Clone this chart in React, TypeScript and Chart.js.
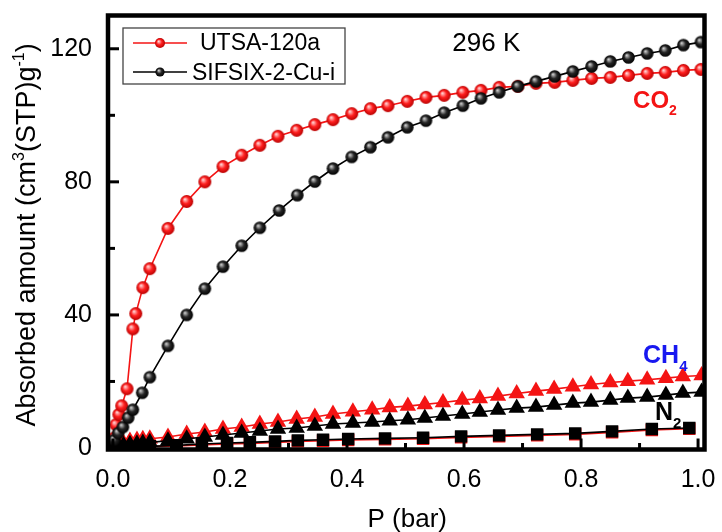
import React, { useEffect, useRef } from "react";
import { Chart, registerables } from "chart.js";

Chart.register(...registerables);

const FONT = '"Liberation Sans", Arial, Helvetica, sans-serif';
const RED = "#f41414";
const BLACK = "#000000";
const BLUE = "#1818f0";

// CO2 isotherm, UTSA-120a (P in bar, uptake in cm3(STP)/g)
const co2UtsaP = [0.0, 0.002, 0.005, 0.01, 0.015, 0.024, 0.034, 0.039, 0.051, 0.063, 0.094, 0.126, 0.157, 0.188, 0.22, 0.251, 0.282, 0.314, 0.345, 0.376, 0.408, 0.44, 0.47, 0.503, 0.535, 0.566, 0.598, 0.629, 0.66, 0.692, 0.723, 0.755, 0.786, 0.818, 0.85, 0.881, 0.913, 0.944, 0.975, 1.005];
const co2UtsaQ = [0.5, 3.0, 7.0, 10.1, 12.7, 17.8, 35.8, 40.4, 48.2, 53.9, 66.0, 74.1, 80.0, 84.6, 88.0, 91.0, 93.7, 95.5, 97.2, 98.7, 100.5, 102.0, 102.9, 104.2, 105.4, 106.0, 106.9, 107.5, 108.4, 108.7, 109.6, 109.9, 110.5, 111.1, 111.4, 112.0, 112.6, 112.9, 113.5, 113.8];

// CO2 isotherm, SIFSIX-2-Cu-i
const co2SifsixP = [0.002, 0.009, 0.017, 0.026, 0.034, 0.05, 0.063, 0.094, 0.126, 0.157, 0.188, 0.22, 0.251, 0.284, 0.315, 0.345, 0.376, 0.408, 0.44, 0.47, 0.503, 0.535, 0.566, 0.598, 0.629, 0.66, 0.692, 0.723, 0.755, 0.786, 0.818, 0.85, 0.881, 0.913, 0.944, 0.975, 1.005];
const co2SifsixQ = [2.4, 4.5, 6.3, 9.1, 11.5, 16.6, 21.3, 30.7, 40.0, 47.9, 54.5, 60.8, 66.2, 71.4, 76.0, 80.1, 84.0, 87.5, 90.4, 93.4, 96.4, 98.4, 100.8, 102.9, 105.1, 106.9, 108.7, 110.2, 111.7, 113.2, 114.7, 116.2, 117.4, 118.6, 119.5, 121.1, 122.0];

// CH4 isotherms
const ch4P = [0.003, 0.01, 0.018, 0.029, 0.041, 0.051, 0.063, 0.094, 0.126, 0.157, 0.188, 0.22, 0.251, 0.282, 0.314, 0.345, 0.376, 0.41, 0.443, 0.473, 0.504, 0.533, 0.564, 0.597, 0.627, 0.658, 0.69, 0.723, 0.754, 0.786, 0.817, 0.85, 0.88, 0.913, 0.945, 0.974, 1.006];
const ch4UtsaQ = [0.4, 1.0, 1.5, 2.1, 2.4, 2.6, 2.8, 3.3, 4.2, 4.8, 5.7, 6.3, 7.2, 7.8, 8.7, 9.3, 10.2, 10.9, 11.5, 12.2, 12.6, 13.1, 13.7, 14.4, 14.9, 15.6, 16.4, 17.1, 17.7, 18.4, 19.1, 19.7, 20.1, 20.5, 21.0, 21.5, 21.8];
const ch4SifsixQ = [0.2, 0.5, 0.8, 1.1, 1.3, 1.5, 1.7, 2.2, 2.8, 3.3, 3.9, 4.5, 5.1, 5.7, 6.0, 6.6, 7.2, 7.5, 7.8, 8.2, 8.5, 9.0, 9.6, 10.2, 10.8, 11.4, 12.0, 12.3, 12.9, 13.5, 13.8, 14.4, 15.0, 15.3, 15.9, 16.5, 16.8];

// N2 isotherms
const n2P = [0.005, 0.015, 0.03, 0.063, 0.109, 0.152, 0.195, 0.234, 0.277, 0.316, 0.359, 0.402, 0.465, 0.53, 0.595, 0.66, 0.725, 0.79, 0.853, 0.921, 0.985];
const n2UtsaQ = [0.1, 0.2, 0.3, 0.4, 0.6, 0.9, 1.2, 1.4, 1.7, 2.0, 2.2, 2.4, 2.6, 2.8, 3.2, 3.5, 3.8, 4.1, 4.7, 5.4, 5.8];
const n2SifsixQ = [0.1, 0.2, 0.3, 0.5, 0.8, 1.2, 1.5, 1.7, 2.0, 2.3, 2.5, 2.7, 2.9, 3.1, 3.5, 3.8, 4.1, 4.4, 5.0, 5.7, 6.0];

// Axes
const xTicks = [0, 0.2, 0.4, 0.6, 0.8, 1.0];
const xMinorTicks = [0.1, 0.3, 0.5, 0.7, 0.9];
const yTicks = [0, 40, 80, 120];
const yMinorTicks = [20, 60, 100];
const xLimits = [-0.0085, 1.011];
const yLimits = [-0.45, 130];

const seriesNames = ["UTSA-120a", "SIFSIX-2-Cu-i"];

const pairs = (xs: number[], ys: number[]) => xs.map((x, i) => ({ x, y: ys[i] }));

function makeSphere(r: number, light: string, mid: string, dark: string) {
  const size = Math.ceil(r * 2 + 2);
  const c = document.createElement("canvas");
  c.width = size;
  c.height = size;
  const g = c.getContext("2d")!;
  const cx = size / 2;
  const cy = size / 2;
  const grad = g.createRadialGradient(cx - r * 0.3, cy - r * 0.35, r * 0.05, cx, cy, r);
  grad.addColorStop(0, light);
  grad.addColorStop(0.5, mid);
  grad.addColorStop(1, dark);
  g.fillStyle = grad;
  g.beginPath();
  g.arc(cx, cy, r, 0, Math.PI * 2);
  g.fill();
  return c;
}

function drawRich(
  ctx: CanvasRenderingContext2D,
  parts: { t: string; sup?: boolean; sub?: boolean }[],
  x: number,
  y: number,
  size: number,
  bold: boolean,
  align: "left" | "center"
) {
  const w = bold ? "bold " : "";
  const small = Math.round(size * 0.6);
  const widths = parts.map((p) => {
    ctx.font = `${w}${p.sup || p.sub ? small : size}px ${FONT}`;
    return ctx.measureText(p.t).width;
  });
  const total = widths.reduce((a, b) => a + b, 0);
  let cx = align === "center" ? x - total / 2 : x;
  parts.forEach((p, i) => {
    ctx.font = `${w}${p.sup || p.sub ? small : size}px ${FONT}`;
    const dy = p.sup ? -size * 0.42 : p.sub ? size * 0.3 : 0;
    ctx.fillText(p.t, cx, y + dy);
    cx += widths[i];
  });
}

export default function App() {
  const canvasRef = useRef<HTMLCanvasElement | null>(null);

  useEffect(() => {
    const canvas = canvasRef.current;
    if (!canvas) return;

    const redBall = makeSphere(6.5, "#ffd8d8", "#ff2020", "#b80000");
    const blackBall = makeSphere(6.3, "#d0d0d0", "#262626", "#000000");
    const redBallSmall = makeSphere(5, "#ffd8d8", "#ff2020", "#b80000");
    const blackBallSmall = makeSphere(4.6, "#d0d0d0", "#262626", "#000000");

    const decorations = {
      id: "isothermDecor",
      afterDatasetsDraw(chart: any) {
        const { ctx, chartArea: a, scales } = chart;
        const xs = scales.x;
        const ys = scales.y;
        ctx.save();
        ctx.strokeStyle = BLACK;
        ctx.lineCap = "butt";

        // inward tick marks on the bottom and left axes
        ctx.lineWidth = 3;
        const tickX = (v: number, len: number) => {
          const p = xs.getPixelForValue(v);
          ctx.beginPath();
          ctx.moveTo(p, a.bottom);
          ctx.lineTo(p, a.bottom - len);
          ctx.stroke();
        };
        const tickY = (v: number, len: number) => {
          const p = ys.getPixelForValue(v);
          ctx.beginPath();
          ctx.moveTo(a.left, p);
          ctx.lineTo(a.left + len, p);
          ctx.stroke();
        };
        xTicks.forEach((v) => tickX(v, 11));
        xMinorTicks.forEach((v) => tickX(v, 6.5));
        yTicks.forEach((v) => tickY(v, 11));
        yMinorTicks.forEach((v) => tickY(v, 7));

        // plot frame
        ctx.lineWidth = 4.5;
        ctx.strokeRect(a.left, a.top, a.right - a.left, a.bottom - a.top);
        ctx.restore();
      },
      afterDraw(chart: any) {
        const { ctx, chartArea: a, scales } = chart;
        const xs = scales.x;
        const ys = scales.y;
        ctx.save();
        ctx.textBaseline = "alphabetic";
        ctx.textAlign = "left";

        // axis titles
        ctx.fillStyle = BLACK;
        drawRich(ctx, [{ t: "P (bar)" }], (a.left + a.right) / 2 + 1, 527, 26, false, "center");
        ctx.save();
        ctx.translate(35, 235);
        ctx.rotate(-Math.PI / 2);
        drawRich(
          ctx,
          [
            { t: "Absorbed amount (cm" },
            { t: "3", sup: true },
            { t: "(STP)g" },
            { t: "-1", sup: true },
            { t: ")" },
          ],
          0,
          0,
          27,
          false,
          "center"
        );
        ctx.restore();

        // temperature and gas labels
        ctx.fillStyle = BLACK;
        drawRich(ctx, [{ t: "296 K" }], xs.getPixelForValue(0.58), ys.getPixelForValue(119.2), 26, false, "left");
        ctx.fillStyle = RED;
        drawRich(ctx, [{ t: "CO" }, { t: "2", sub: true }], xs.getPixelForValue(0.889), ys.getPixelForValue(102.3), 24, true, "left");
        ctx.fillStyle = BLUE;
        drawRich(ctx, [{ t: "CH" }, { t: "4", sub: true }], xs.getPixelForValue(0.906), ys.getPixelForValue(25.5), 25, true, "left");
        ctx.fillStyle = BLACK;
        drawRich(ctx, [{ t: "N" }, { t: "2", sub: true }], xs.getPixelForValue(0.9265), ys.getPixelForValue(8.4), 25, true, "left");

        // legend
        const lx = a.left + 15;
        const ly = a.top + 12.5;
        ctx.fillStyle = "#ffffff";
        ctx.fillRect(lx, ly, 222, 56);
        ctx.strokeStyle = "#444444";
        ctx.lineWidth = 1.3;
        ctx.strokeRect(lx, ly, 222, 56);
        const rows = [
          { name: seriesNames[0], color: RED, ball: redBallSmall, y: ly + 15, tx: lx + 77, base: ly + 21.5 },
          { name: seriesNames[1], color: BLACK, ball: blackBallSmall, y: ly + 44, tx: lx + 69, base: ly + 52 },
        ];
        rows.forEach((r) => {
          ctx.strokeStyle = r.color;
          ctx.lineWidth = 1.6;
          ctx.beginPath();
          ctx.moveTo(lx + 10, r.y);
          ctx.lineTo(lx + 64, r.y);
          ctx.stroke();
          ctx.drawImage(r.ball, lx + 37 - r.ball.width / 2, r.y - r.ball.height / 2);
          ctx.fillStyle = BLACK;
          ctx.font = `23px ${FONT}`;
          ctx.fillText(r.name, r.tx, r.base);
        });
        ctx.restore();
      },
    };

    const lineSet = (
      label: string,
      data: { x: number; y: number }[],
      color: string,
      style: any,
      radius: number,
      order: number
    ) => ({
      label,
      data,
      borderColor: color,
      backgroundColor: color,
      borderWidth: 1.6,
      pointStyle: style,
      pointRadius: radius,
      pointBorderWidth: 0,
      pointBackgroundColor: color,
      tension: 0,
      order,
    });

    const chart = new Chart(canvas, {
      type: "line",
      data: {
        datasets: [
          lineSet("CO2 " + seriesNames[0], pairs(co2UtsaP, co2UtsaQ), RED, redBall, 6.5, 2),
          lineSet("CO2 " + seriesNames[1], pairs(co2SifsixP, co2SifsixQ), BLACK, blackBall, 6.3, 1),
          lineSet("CH4 " + seriesNames[0], pairs(ch4P, ch4UtsaQ), RED, "triangle", 9.5, 2),
          lineSet("CH4 " + seriesNames[1], pairs(ch4P, ch4SifsixQ), BLACK, "triangle", 9.5, 1),
          lineSet("N2 " + seriesNames[0], pairs(n2P, n2UtsaQ), RED, "rect", 8.8, 2),
          lineSet("N2 " + seriesNames[1], pairs(n2P, n2SifsixQ), BLACK, "rect", 8.8, 1),
        ] as any,
      },
      options: {
        responsive: false,
        animation: false,
        layout: { padding: { top: 15.5, right: 17.5, left: 0, bottom: 0 } },
        plugins: { legend: { display: false }, tooltip: { enabled: false } },
        scales: {
          x: {
            type: "linear",
            min: xLimits[0],
            max: xLimits[1],
            grid: { display: false, drawTicks: false },
            border: { display: false },
            afterBuildTicks: (s: any) => {
              s.ticks = xTicks.map((v) => ({ value: v }));
            },
            afterFit: (s: any) => {
              s.height = 82.5;
              s.paddingLeft = 0;
              s.paddingRight = 0;
              s.paddingTop = 0;
              s.paddingBottom = 0;
            },
            ticks: {
              color: BLACK,
              font: { family: FONT, size: 25 },
              padding: 16,
              maxRotation: 0,
              autoSkip: false,
              callback: (v: any) => Number(v).toFixed(1),
            },
          },
          y: {
            type: "linear",
            min: yLimits[0],
            max: yLimits[1],
            grid: { display: false, drawTicks: false },
            border: { display: false },
            afterBuildTicks: (s: any) => {
              s.ticks = yTicks.map((v) => ({ value: v }));
            },
            afterFit: (s: any) => {
              s.width = 108;
              s.paddingLeft = 0;
              s.paddingRight = 0;
              s.paddingTop = 0;
              s.paddingBottom = 0;
            },
            ticks: {
              color: BLACK,
              font: { family: FONT, size: 25 },
              padding: 16,
              autoSkip: false,
              callback: (v: any) => String(v),
            },
          },
        },
      },
      plugins: [decorations],
    });

    return () => chart.destroy();
  }, []);

  return (
    <div style={{ position: "fixed", left: 0, top: 0, width: 722, height: 532, background: "#ffffff" }}>
      <canvas ref={canvasRef} width={722} height={532} />
    </div>
  );
}
